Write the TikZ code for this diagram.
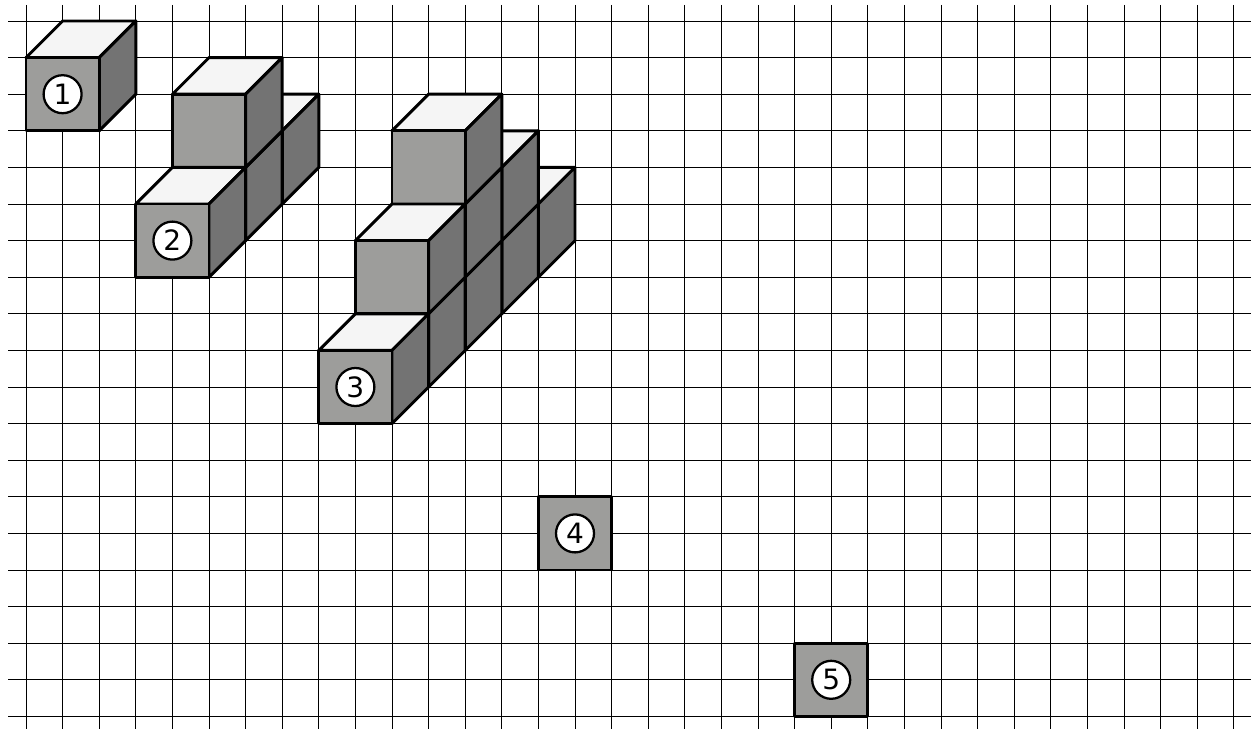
\documentclass[tikz,border=0pt]{standalone}
\usepackage{fontspec}
\setmainfont{DejaVu Sans}
\definecolor{topc}{HTML}{F5F5F5}
\definecolor{frontc}{HTML}{9D9D9B}
\definecolor{sidec}{HTML}{737373}
\tikzset{
  gridline/.style={black,line width=0.75pt},
  edge/.style={black,line width=2.2pt,line join=round},
  badge/.style={circle,draw=black,line width=1.7pt,fill=white,minimum size=28.5pt,inner sep=0pt,font=\fontsize{21}{21}\selectfont}
}
\newcommand{\cubeat}[2]{%
  \filldraw[edge,fill=topc] (#1,#2) -- ++(1,-1) -- ++(2,0) -- ++(-1,1) -- cycle;
  \filldraw[edge,fill=sidec] (#1+2,#2) -- ++(1,-1) -- ++(0,2) -- ++(-1,1) -- cycle;
  \filldraw[edge,fill=frontc] (#1,#2) rectangle ++(2,2);
}
\begin{document}
\begin{tikzpicture}[x=27.45pt,y=-27.45pt]
\useasboundingbox[fill=white] (-0.7104,-0.5738) rectangle ({(1252-26)/36.6},{(729-21)/36.6});
\foreach \c in {0,...,33} \draw[gridline] (\c,-0.44) -- (\c,19.34);
\foreach \r in {0,...,19} \draw[gridline] (-0.49,\r) -- (33.46,\r);
% figure 1
\cubeat{0}{1}
% figure 2
\cubeat{5}{3}
\cubeat{4}{4}
\cubeat{4}{2}
\cubeat{3}{5}
% figure 3
\cubeat{12}{5}
\cubeat{11}{6}
\cubeat{11}{4}
\cubeat{10}{7}
\cubeat{10}{5}
\cubeat{10}{3}
\cubeat{9}{8}
\cubeat{9}{6}
\cubeat{8}{9}
% figures 4 and 5
\filldraw[edge,fill=frontc] (14,13) rectangle ++(2,2);
\filldraw[edge,fill=frontc] (21,17) rectangle ++(2,2);
\node[badge] (n1) at (1,2) {1};
\node[badge] (n2) at (4,6) {2};
\node[badge] (n3) at (9,10) {3};
\node[badge] (n4) at (15,14) {4};
\node[badge] (n5) at (22,18) {5};
\end{tikzpicture}
\end{document}
